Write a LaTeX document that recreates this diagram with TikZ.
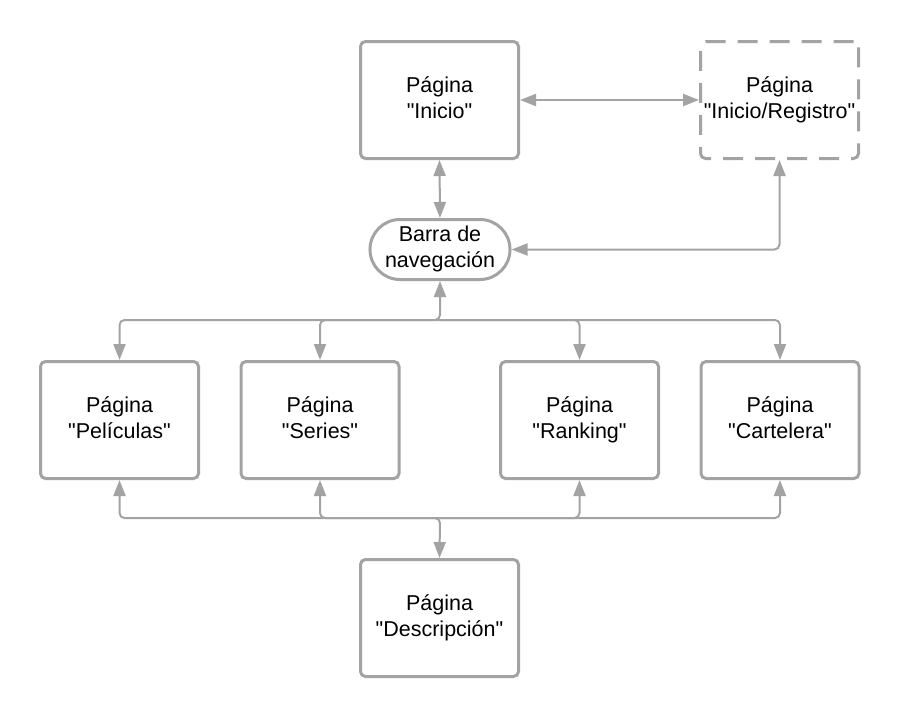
\documentclass[tikz,border=0pt]{standalone}
\usepackage{fontspec}
\setmainfont{Liberation Sans}[Ligatures=TeXOff]
\usetikzlibrary{arrows.meta,shapes.misc}
\definecolor{lg}{HTML}{A3A3A3}
\newcommand\twolines[2]{\strut #1\\\strut #2}
\begin{document}
\begin{tikzpicture}[x=1pt,y=-1pt,
  lbl/.style={font=\fontsize{21.5}{26}\selectfont,text=black,align=center},
  page/.style={lbl,draw=lg,line width=3pt,rounded corners=5pt,minimum width=158pt,minimum height=117pt,inner sep=0pt},
  navbox/.style={lbl,draw=lg,line width=3pt,rounded rectangle,minimum width=137pt,minimum height=60pt,inner sep=0pt},
  conn/.style={draw=lg,line width=2pt,rounded corners=5pt},
  bi/.style={conn,arrows={Triangle[length=16pt,width=12pt]-Triangle[length=16pt,width=12pt]}},
  uni/.style={conn,arrows={-Triangle[length=16pt,width=12pt]}}]
\useasboundingbox (0,0) rectangle (900,718);
\node[page] (ini) at (439.5,100) {\twolines{Página}{"Inicio"}};
\node[page,dash pattern=on 20pt off 12pt] (reg) at (779.5,100) {\twolines{Página}{"Inicio/Registro"}};
\node[navbox] (nav) at (440,249.5) {\twolines{Barra de}{navegación}};
\node[page] (pel) at (119.5,420) {\twolines{Página}{"Películas"}};
\node[page] (ser) at (320,420) {\twolines{Página}{"Series"}};
\node[page] (ran) at (579.5,420) {\twolines{Página}{"Ranking"}};
\node[page] (car) at (780,420) {\twolines{Página}{"Cartelera"}};
\node[page] (desc) at (439.5,618) {\twolines{Página}{"Descripción"}};
\coordinate (jt) at (440,320);
\coordinate (jb) at (440,518);
\draw[bi] (ini.east) -- (reg.west);
\draw[bi] (ini.south) -- (nav.north);
\draw[bi] (nav.east) -| (reg.south);
\draw[bi] (nav.south) -- (jt) -| (pel.north);
\draw[uni] (jt) -| (ser.north);
\draw[uni] (jt) -| (ran.north);
\draw[uni] (jt) -| (car.north);
\draw[bi] (pel.south) |- (jb) -- (desc.north);
\draw[uni] (jb) -| (ser.south);
\draw[uni] (jb) -| (ran.south);
\draw[uni] (jb) -| (car.south);
\end{tikzpicture}
\end{document}
